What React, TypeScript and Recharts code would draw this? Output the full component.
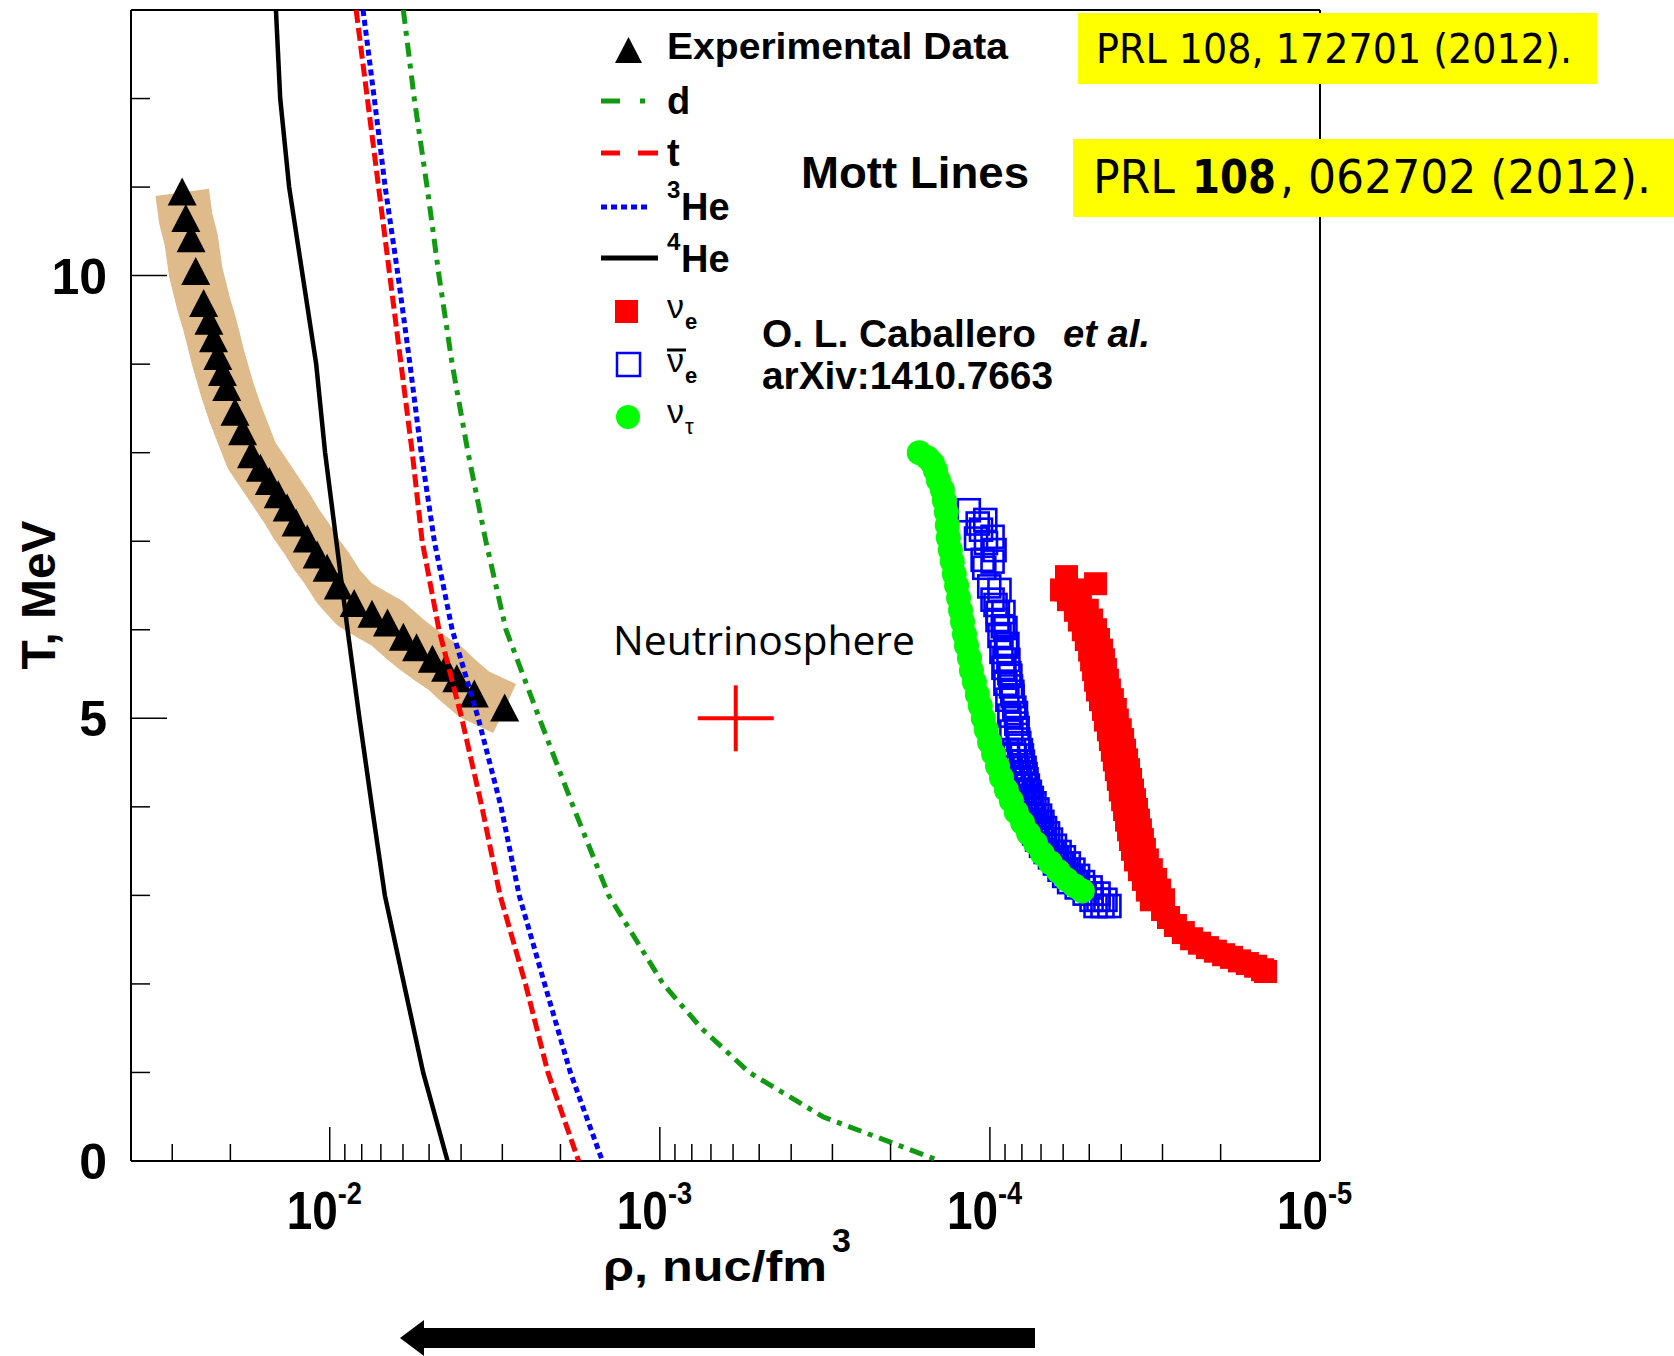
import { ScatterChart, Scatter, XAxis, YAxis } from 'recharts'

// Mott lines: temperature (MeV) vs log10 density (nuc/fm^3)
const LINE_T = [13, 12, 11, 10, 9, 8, 7, 6, 5, 4, 3, 2, 1, 0]
const HE4_LOG = [-1.837, -1.85, -1.877, -1.918, -1.959, -1.986, -2.02, -2.054, -2.09, -2.128, -2.167, -2.225, -2.283, -2.357]
const TRITON_LOG = [-2.08, -2.114, -2.148, -2.182, -2.216, -2.25, -2.28, -2.331, -2.4, -2.461, -2.516, -2.593, -2.661, -2.754]
const HE3_LOG = [-2.101, -2.135, -2.168, -2.207, -2.243, -2.277, -2.317, -2.371, -2.45, -2.519, -2.574, -2.651, -2.729, -2.826]
const D_T = [13, 12, 11, 10, 9, 8, 7, 6, 5, 4, 3, 2, 1.5, 1, 0.5, 0.2, 0]
const D_LOG = [-2.223, -2.256, -2.295, -2.331, -2.371, -2.419, -2.473, -2.534, -2.635, -2.738, -2.845, -3.01, -3.126, -3.271, -3.494, -3.707, -3.849]

// experimental data (triangles)
const EXP_T = [10.94, 10.64, 10.41, 10.04, 9.68, 9.48, 9.28, 9.08, 8.9, 8.73, 8.45, 8.23, 7.97, 7.82, 7.67, 7.52, 7.37, 7.2, 7.02, 6.84, 6.69, 6.49, 6.29, 6.17, 6.07, 5.91, 5.79, 5.66, 5.56, 5.44, 5.27, 5.11]
const EXP_LOG = [-1.553, -1.564, -1.58, -1.594, -1.618, -1.634, -1.648, -1.661, -1.675, -1.688, -1.713, -1.736, -1.763, -1.79, -1.817, -1.844, -1.871, -1.898, -1.932, -1.962, -1.992, -2.026, -2.074, -2.128, -2.175, -2.223, -2.263, -2.311, -2.351, -2.385, -2.438, -2.53]

// nu_e: top blocks, then the steep part (left / right edge of the band), then the tail
const NUE_TOP_T = [6.6, 6.45, 6.52]
const NUE_TOP_LOG = [-4.232, -4.232, -4.32]
const NUE_MID_T = [6.45, 6.34, 6.22, 6.11, 6.0, 5.89, 5.77, 5.66, 5.55, 5.43, 5.32, 5.21, 5.1, 4.98, 4.87, 4.76, 4.64, 4.53, 4.42, 4.31, 4.19, 4.08, 3.97, 3.85, 3.74, 3.63, 3.52, 3.4, 3.29, 3.18, 3.06, 2.95]
const NUE_MID_LEFT_LOG = [-4.217, -4.238, -4.259, -4.271, -4.283, -4.292, -4.302, -4.308, -4.314, -4.32, -4.326, -4.335, -4.344, -4.35, -4.359, -4.365, -4.371, -4.377, -4.383, -4.389, -4.395, -4.402, -4.408, -4.414, -4.42, -4.426, -4.432, -4.441, -4.453, -4.465, -4.477, -4.489]
const NUE_MID_RIGHT_LOG = [-4.253, -4.274, -4.295, -4.308, -4.32, -4.329, -4.338, -4.344, -4.35, -4.356, -4.362, -4.371, -4.38, -4.386, -4.395, -4.402, -4.408, -4.414, -4.42, -4.426, -4.432, -4.438, -4.444, -4.45, -4.456, -4.462, -4.468, -4.477, -4.489, -4.502, -4.514, -4.526]
const NUE_TAIL_T = [2.84, 2.75, 2.66, 2.58, 2.51, 2.46, 2.41, 2.37, 2.33, 2.3, 2.26, 2.23, 2.2, 2.16, 2.14]
const NUE_TAIL_LOG = [-4.523, -4.541, -4.562, -4.586, -4.611, -4.635, -4.659, -4.683, -4.708, -4.732, -4.756, -4.78, -4.805, -4.826, -4.835]

// anti nu_e: loose open squares at the top, stacked ones in the middle, dense band below
const NUEBAR_TOP_T = [7.35, 7.24, 7.2, 7.13, 7.05, 7.03, 6.98, 6.9, 6.79, 6.77, 6.7, 6.49, 6.45, 6.34, 6.19, 6.04, 5.81, 5.66, 5.51, 5.36, 5.25, 5.06, 4.89, 4.72]
const NUEBAR_TOP_LOG = [-3.936, -3.986, -3.963, -3.973, -4.008, -3.958, -3.988, -4.014, -3.978, -4.008, -3.983, -3.998, -4.029, -4.008, -4.024, -4.039, -4.049, -4.044, -4.059, -4.064, -4.069, -4.079, -4.084, -4.089]
const NUEBAR_MID_T = [6.28, 6.2, 6.11, 6.02, 5.93, 5.84, 5.75, 5.66, 5.57, 5.48, 5.39, 5.3, 5.21, 5.12, 5.03, 4.94, 4.85, 4.76]
const NUEBAR_MID_LOG = [-4.017, -4.041, -4.023, -4.047, -4.029, -4.053, -4.035, -4.056, -4.041, -4.062, -4.047, -4.068, -4.053, -4.074, -4.059, -4.08, -4.065, -4.086]
const NUEBAR_LOW_T = [4.64, 4.58, 4.51, 4.44, 4.37, 4.31, 4.24, 4.17, 4.1, 4.04, 3.97, 3.9, 3.83, 3.76, 3.7, 3.63, 3.56, 3.49, 3.43, 3.36, 3.29, 3.22, 3.15, 3.09, 3.02, 2.95, 2.88]
const NUEBAR_LOW_RIGHT_LOG = [-4.094, -4.097, -4.1, -4.105, -4.108, -4.111, -4.115, -4.121, -4.127, -4.135, -4.144, -4.152, -4.159, -4.167, -4.176, -4.185, -4.197, -4.211, -4.224, -4.239, -4.253, -4.267, -4.282, -4.305, -4.329, -4.35, -4.362]
const NUEBAR_LOW_MID_LOG = [-4.073, -4.076, -4.079, -4.084, -4.087, -4.09, -4.094, -4.1, -4.106, -4.114, -4.123, -4.131, -4.138, -4.146, -4.155, -4.164, -4.176, -4.19, -4.203, -4.218, -4.232, -4.246, -4.261, -4.284, -4.308, -4.329, -4.341]
const NUEBAR_LOW_LEFT_LOG = [-4.052, -4.055, -4.058, -4.063, -4.066, -4.069, -4.073, -4.079, -4.085, -4.093, -4.102, -4.11, -4.117, -4.125, -4.134, -4.143, -4.155, -4.169, -4.182, -4.197, -4.211, -4.225, -4.24, -4.263, -4.287, -4.308, -4.32]

// nu_tau
const NUTAU_T = [8.0, 7.94, 7.88, 7.8, 7.69, 7.58, 7.46, 7.33, 7.18, 7.04, 6.9, 6.77, 6.63, 6.5, 6.36, 6.22, 6.09, 5.95, 5.82, 5.68, 5.54, 5.41, 5.27, 5.14, 5.0, 4.87, 4.73, 4.6, 4.46, 4.33, 4.19, 4.07, 3.94, 3.82, 3.7, 3.59, 3.47, 3.37, 3.27, 3.18, 3.11, 3.05]
const NUTAU_LOG = [-3.786, -3.811, -3.826, -3.835, -3.844, -3.856, -3.862, -3.868, -3.871, -3.874, -3.88, -3.886, -3.892, -3.899, -3.905, -3.911, -3.917, -3.923, -3.929, -3.938, -3.944, -3.953, -3.962, -3.971, -3.98, -3.989, -3.999, -4.011, -4.023, -4.035, -4.05, -4.065, -4.08, -4.099, -4.117, -4.138, -4.159, -4.183, -4.208, -4.232, -4.256, -4.28]

// neutrinosphere marker
const NS_T = [5.0]
const NS_LOG = [-3.23]

const X_TICKS = [
  0.03, 0.02, 0.01, 0.009, 0.008, 0.007, 0.006, 0.005, 0.004, 0.003, 0.002,
  0.001, 0.0009, 0.0008, 0.0007, 0.0006, 0.0005, 0.0004, 0.0003, 0.0002,
  0.0001, 0.00009, 0.00008, 0.00007, 0.00006, 0.00005, 0.00004, 0.00003, 0.00002, 0.00001,
]
const X_MAJOR = [0.01, 0.001, 0.0001, 0.00001]
const Y_TICKS = [0, 1, 2, 3, 4, 5, 6, 7, 8, 9, 10, 11, 12]
const Y_MAJOR = [0, 5, 10]

const FONT = '"Liberation Sans", Arial, sans-serif'

const pts = (logs: number[], ts: number[]) => logs.map((l, i) => ({ x: 10 ** l, y: ts[i] }))

const he4 = pts(HE4_LOG, LINE_T)
const triton = pts(TRITON_LOG, LINE_T)
const he3 = pts(HE3_LOG, LINE_T)
const deut = pts(D_LOG, D_T)
const exp = pts(EXP_LOG, EXP_T)
const nue = [
  ...pts(NUE_TOP_LOG, NUE_TOP_T),
  ...pts(NUE_MID_LEFT_LOG, NUE_MID_T),
  ...pts(NUE_MID_RIGHT_LOG, NUE_MID_T),
  ...pts(NUE_TAIL_LOG, NUE_TAIL_T),
]
const nuebar = [
  ...pts(NUEBAR_TOP_LOG, NUEBAR_TOP_T),
  ...pts(NUEBAR_MID_LOG, NUEBAR_MID_T),
  ...pts(NUEBAR_LOW_LEFT_LOG, NUEBAR_LOW_T),
  ...pts(NUEBAR_LOW_MID_LOG, NUEBAR_LOW_T),
  ...pts(NUEBAR_LOW_RIGHT_LOG, NUEBAR_LOW_T),
]
const nutau = pts(NUTAU_LOG, NUTAU_T)
const ns = pts(NS_LOG, NS_T)

// ROOT style: ticks point inwards, decade labels as 10^n (slightly condensed font)
function XTick({ x, y, payload }: any) {
  const v = payload.value
  const major = X_MAJOR.includes(v)
  return (
    <g>
      <line x1={x} x2={x} y1={y} y2={y - (major ? 34 : 17)} stroke="#000" strokeWidth={1.5} />
      {major && (
        <g transform={`translate(${x - 43},${y + 67.5}) scale(0.85,1)`}>
          <text x={0} y={0} fontFamily={FONT} fontWeight="bold" fontSize={54}>
            10<tspan dy={-25} fontSize={32}>{Math.round(Math.log10(v))}</tspan>
          </text>
        </g>
      )}
    </g>
  )
}

function YTick({ x, y, payload }: any) {
  const major = Y_MAJOR.includes(payload.value)
  return (
    <g>
      <line x1={x} x2={x + (major ? 36 : 19)} y1={y} y2={y} stroke="#000" strokeWidth={1.5} />
      {major && (
        <text x={x - 24} y={y + 18} textAnchor="end" fontFamily={FONT} fontWeight="bold" fontSize={50}>
          {payload.value}
        </text>
      )}
    </g>
  )
}

const Nothing = () => <g />
const Triangle = ({ cx, cy }: any) => (
  <polygon points={`${cx},${cy - 15} ${cx - 14.5},${cy + 13} ${cx + 14.5},${cy + 13}`} fill="#000" />
)
const RedSquare = ({ cx, cy }: any) => <rect x={cx - 11.5} y={cy - 11.5} width={23} height={23} fill="#ff0000" />
const BlueSquare = ({ cx, cy }: any) => (
  <rect x={cx - 11} y={cy - 11} width={22} height={22} fill="none" stroke="#0000ff" strokeWidth={2.6} />
)
const GreenDot = ({ cx, cy }: any) => <circle cx={cx} cy={cy} r={12.5} fill="#00ff00" />
const Cross = ({ cx, cy }: any) => (
  <g stroke="#ff0000" strokeWidth={4}>
    <line x1={cx - 38} x2={cx + 38} y1={cy} y2={cy} />
    <line x1={cx} x2={cx} y1={cy - 33} y2={cy + 33} />
  </g>
)

const axisLine = { stroke: '#000', strokeWidth: 2 }

export default function App() {
  return (
    <div style={{ position: 'absolute', left: 0, top: 0, width: 1674, height: 1356, background: '#fff' }}>
      <ScatterChart width={1674} height={1356} margin={{ top: 8, right: 352, bottom: 135, left: 71 }}>
        <XAxis
          dataKey="x"
          type="number"
          scale="log"
          domain={[0.00001, 0.04]}
          allowDataOverflow
          reversed
          ticks={X_TICKS}
          interval={0}
          height={60}
          tickSize={0}
          tickMargin={0}
          tickLine={false}
          axisLine={axisLine}
          tick={XTick}
        />
        <XAxis
          xAxisId="top"
          orientation="top"
          type="number"
          scale="log"
          domain={[0.00001, 0.04]}
          allowDataOverflow
          reversed
          height={2}
          tick={false}
          tickLine={false}
          axisLine={axisLine}
        />
        <YAxis
          dataKey="y"
          type="number"
          domain={[0, 13]}
          allowDataOverflow
          ticks={Y_TICKS}
          interval={0}
          width={60}
          tickSize={0}
          tickMargin={0}
          tickLine={false}
          axisLine={axisLine}
          tick={YTick}
        />
        <YAxis
          yAxisId="right"
          orientation="right"
          type="number"
          domain={[0, 13]}
          width={2}
          tick={false}
          tickLine={false}
          axisLine={axisLine}
        />

        {/* shaded band behind the experimental points */}
        <Scatter
          data={exp}
          shape={Nothing}
          line={{ stroke: '#dfbb8c', strokeWidth: 54, strokeLinejoin: 'round' }}
          isAnimationActive={false}
        />
        <Scatter data={exp} shape={Triangle} isAnimationActive={false} />

        <Scatter data={deut} shape={Nothing} line={{ stroke: '#119911', strokeWidth: 5, strokeDasharray: '14 7 5 7' }} isAnimationActive={false} />
        <Scatter data={triton} shape={Nothing} line={{ stroke: '#ff0000', strokeWidth: 5, strokeDasharray: '13 5' }} isAnimationActive={false} />
        <Scatter data={he3} shape={Nothing} line={{ stroke: '#0000ff', strokeWidth: 5, strokeDasharray: '6 4' }} isAnimationActive={false} />
        <Scatter data={he4} shape={Nothing} line={{ stroke: '#000', strokeWidth: 4.5 }} isAnimationActive={false} />

        <Scatter data={nue} shape={RedSquare} isAnimationActive={false} />
        <Scatter data={nuebar} shape={BlueSquare} isAnimationActive={false} />
        <Scatter data={nutau} shape={GreenDot} isAnimationActive={false} />
        <Scatter data={ns} shape={Cross} isAnimationActive={false} />
      </ScatterChart>

      <svg width={1674} height={1356} style={{ position: 'absolute', left: 0, top: 0, pointerEvents: 'none' }}>
        <g fontFamily={FONT} fontWeight="bold" fill="#000">
          {/* legend */}
          <polygon points="615,63 642,63 628.5,37" fill="#000" />
          <text x={667} y={59} fontSize={37} textLength={341} lengthAdjust="spacingAndGlyphs">Experimental Data</text>

          <line x1={601} x2={620} y1={101} y2={101} stroke="#119911" strokeWidth={5} />
          <line x1={640} x2={645} y1={101} y2={101} stroke="#119911" strokeWidth={5} />
          <text x={667} y={114} fontSize={38}>d</text>

          <line x1={601} x2={620} y1={153} y2={153} stroke="#ff0000" strokeWidth={5} />
          <line x1={638} x2={658} y1={153} y2={153} stroke="#ff0000" strokeWidth={5} />
          <text x={667} y={166} fontSize={38}>t</text>

          <line x1={601} x2={651} y1={207} y2={207} stroke="#0000ff" strokeWidth={5} strokeDasharray="6 4" />
          <text x={667} y={198} fontSize={24}>3</text>
          <text x={681} y={220} fontSize={38}>He</text>

          <line x1={601} x2={658} y1={258} y2={258} stroke="#000" strokeWidth={5} />
          <text x={667} y={250} fontSize={24}>4</text>
          <text x={681} y={272} fontSize={38}>He</text>

          <rect x={615} y={300} width={23} height={23} fill="#ff0000" />
          <text x={667} y={318} fontSize={34} fontWeight="normal">ν</text>
          <text x={685} y={329} fontSize={22}>e</text>

          <rect x={617} y={353} width={23} height={23} fill="none" stroke="#0000ff" strokeWidth={2.5} />
          <line x1={667} x2={686} y1={350} y2={350} stroke="#000" strokeWidth={3} />
          <text x={667} y={372} fontSize={34} fontWeight="normal">ν</text>
          <text x={685} y={383} fontSize={22}>e</text>

          <circle cx={628} cy={417} r={12} fill="#00ff00" />
          <text x={667} y={423} fontSize={34} fontWeight="normal">ν</text>
          <text x={685} y={434} fontSize={22} fontWeight="normal">τ</text>

          <text x={801} y={188} fontSize={45} textLength={228} lengthAdjust="spacingAndGlyphs">Mott Lines</text>
          <text x={762} y={347} fontSize={38} textLength={274} lengthAdjust="spacingAndGlyphs">O. L. Caballero</text>
          <text x={1063} y={347} fontSize={38} fontStyle="italic" textLength={87} lengthAdjust="spacingAndGlyphs">et al.</text>
          <text x={762} y={389} fontSize={38} textLength={291} lengthAdjust="spacingAndGlyphs">arXiv:1410.7663</text>

          {/* axis titles */}
          <text transform="translate(55,595) rotate(-90)" textAnchor="middle" fontSize={48} textLength={149} lengthAdjust="spacingAndGlyphs">T, MeV</text>
          <text x={603} y={1281} fontSize={43} textLength={224} lengthAdjust="spacingAndGlyphs">ρ, nuc/fm</text>
          <text x={832} y={1252} fontSize={34}>3</text>
        </g>

        <text x={613} y={655} fontFamily='"Open Sans", sans-serif' fontSize={40} textLength={302} lengthAdjust="spacingAndGlyphs">Neutrinosphere</text>

        {/* references */}
        <rect x={1078} y={13} width={519} height={71} fill="#ffff00" />
        <text x={1096} y={63} fontFamily='"DejaVu Sans", sans-serif' fontSize={40} textLength={476} lengthAdjust="spacingAndGlyphs">PRL 108, 172701 (2012).</text>
        <rect x={1073} y={139} width={601} height={78} fill="#ffff00" />
        <g fontFamily='"DejaVu Sans", sans-serif' fontSize={46}>
          <text x={1093} y={193} textLength={82} lengthAdjust="spacingAndGlyphs">PRL</text>
          <text x={1192} y={193} fontWeight="bold" textLength={84} lengthAdjust="spacingAndGlyphs">108</text>
          <text x={1280} y={193} textLength={371} lengthAdjust="spacingAndGlyphs">, 062702 (2012).</text>
        </g>

        {/* direction arrow */}
        <rect x={422} y={1328} width={613} height={20} fill="#000" />
        <polygon points="400,1338 424,1320 424,1356" fill="#000" />
      </svg>
    </div>
  )
}
